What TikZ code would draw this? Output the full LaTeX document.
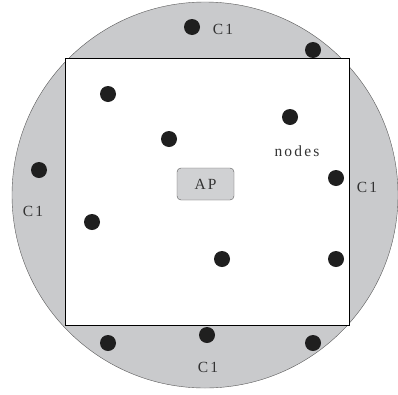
\documentclass[tikz,border=0pt]{standalone}
\usepackage{fontspec}
\newfontfamily\lblfont[LetterSpace=14]{Liberation Serif}
\usetikzlibrary{positioning}
\definecolor{ringgray}{RGB}{201,202,204}
\definecolor{apgray}{RGB}{208,209,211}

\begin{document}
\begin{tikzpicture}[
                x=1pt, y=-1pt,
                dot/.style={circle, fill=black!88, inner sep=0pt, minimum size=16pt},
                lbl/.style={font=\lblfont\fontsize{15.5}{18}\selectfont, text=black!80, inner sep=0pt},
                ap/.style={draw=black!65, fill=apgray, rounded corners=4pt, minimum width=57pt, minimum height=32pt, font=\lblfont\fontsize{15.5}{18}\selectfont, text=black!80}]

            \useasboundingbox (0,0) rectangle (398,394);

            % area
            \draw[black!65, fill=ringgray] (205,195) circle (193pt);
            \draw[black, fill=white] (65,58) rectangle (349,325);

            \node[ap] (ap) at (205.5,184) {AP};

            % nodes in the ring
            \node[dot] (r1) at (192,27) {};
            \node[dot] (r2) at (313,50) {};
            \node[dot] (r3) at (39,170) {};
            \node[dot] (r4) at (336,178) {};
            \node[dot] (r5) at (108,343) {};
            \node[dot] (r6) at (207,335) {};
            \node[dot] (r7) at (313,343) {};

            % nodes in the square
            \node[dot] (s1) at (108,94) {};
            \node[dot] (s2) at (169,139) {};
            \node[dot] (s3) at (290,117) {};
            \node[dot] (s4) at (92,222) {};
            \node[dot] (s5) at (222,259) {};
            \node[dot] (s6) at (336,259) {};

            \node[lbl] (nodes) at (297,151) {nodes};
            \node[lbl] (ctop) at (223,29) {C1};
            \node[lbl] (cleft) at (33,211) {C1};
            \node[lbl] (cright) at (367,187) {C1};
            \node[lbl] (cbot) at (208,367) {C1};

        \end{tikzpicture}
\end{document}
